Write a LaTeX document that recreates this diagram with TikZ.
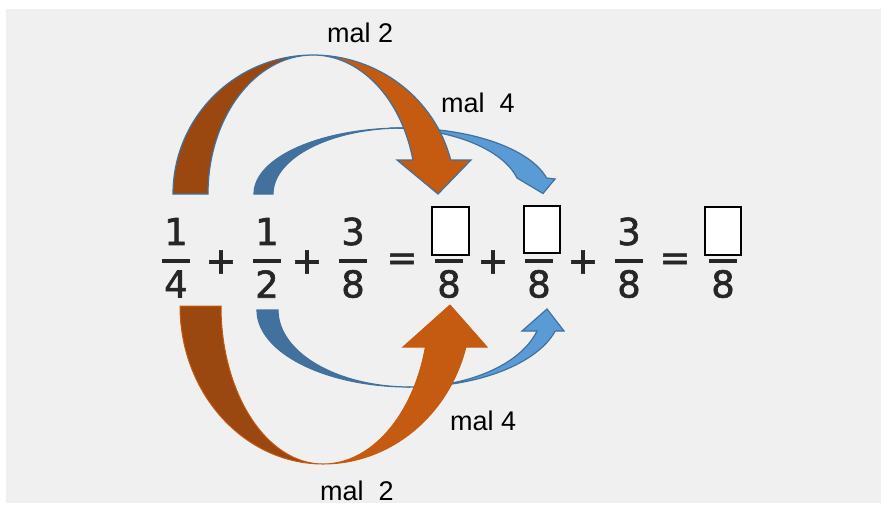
\documentclass[tikz,border=0pt]{standalone}
\usepackage{fontspec}
\setmainfont{DejaVu Sans}
\newfontfamily\labfont{Liberation Sans}
\newfontfamily\eqfont[FakeBold=1.6]{DejaVu Sans}
\definecolor{bg}{HTML}{F0F0F0}
\definecolor{orD}{HTML}{9A4710}
\definecolor{orL}{HTML}{C55A11}
\definecolor{blD}{HTML}{41719C}
\definecolor{blL}{HTML}{5B9BD5}
\begin{document}
\begin{tikzpicture}[x=1pt,y=-1pt,
  lab/.style={font=\labfont\fontsize{27}{27}\selectfont, anchor=base west, inner sep=0pt},
  num/.style={font=\eqfont\fontsize{37}{37}\selectfont, inner sep=0pt, text=black!85},
  fbar/.style={line width=4pt, draw=black!85},
  ansbox/.style={draw=black, line width=2.2pt, fill=white},
  bluearrow/.style={draw=blD, line width=1.2pt, line join=miter},
  topor/.style={draw=blD, line width=1.2pt, line join=miter},
  botor/.style={draw=orL, line width=1pt, line join=miter}]
\useasboundingbox (0,0) rectangle (885,507);
\fill[bg] (6,9) rectangle (881,503);
% ---- top blue arrow
\filldraw[bluearrow, fill=blD] (254,194) arc[start angle=180,end angle=270,x radius=149,y radius=66]
  arc[start angle=270,end angle=180,x radius=130,y radius=66] -- cycle;
\filldraw[bluearrow, fill=blL] (403,128) arc[start angle=270,end angle=345.97,x radius=148,y radius=66]
  -- (555,179) -- (543,193.5) -- (517,178)
  arc[start angle=345.97,end angle=270,x radius=131,y radius=66] -- cycle;
% ---- bottom blue arrow
\filldraw[bluearrow, fill=blD] (257,310) arc[start angle=180,end angle=90,x radius=153,y radius=77]
  arc[start angle=90,end angle=180,x radius=132,y radius=77] -- cycle;
\filldraw[bluearrow, fill=blL] (410,387) arc[start angle=90,end angle=15.83,x radius=151,y radius=77]
  -- (564,331) -- (547,309) -- (522,331) -- (537,331)
  arc[start angle=15.83,end angle=90,x radius=132,y radius=77] -- cycle;
% ---- top orange arrow
\filldraw[topor, fill=orD] (173,194) arc[start angle=180,end angle=270,x radius=140,y radius=139]
  arc[start angle=270,end angle=180,x radius=105,y radius=139] -- cycle;
\filldraw[topor, fill=orL] (313,55) arc[start angle=270,end angle=345.84,x radius=142,y radius=139]
  -- (471,160) -- (438,194) -- (397,160) -- (412.9,160)
  arc[start angle=345.84,end angle=270,x radius=103,y radius=139] -- cycle;
% ---- bottom orange arrow
\filldraw[botor, fill=orD] (180,306) arc[start angle=180,end angle=90,x radius=143,y radius=158]
  arc[start angle=90,end angle=180,x radius=102,y radius=158] -- cycle;
\filldraw[botor, fill=orL] (323,464) arc[start angle=90,end angle=15.04,x radius=148,y radius=158]
  -- (487,347) -- (450,305) -- (403,347) -- (425.4,347)
  arc[start angle=15.04,end angle=90,x radius=106,y radius=158] -- cycle;
% ---- equation
\node[num] (n1) at (176,231.5) {1};
\draw[fbar] (162,261) -- (190,261);
\node[num] (d1) at (176,284) {4};
\node[num] (p1) at (221,262) {+};
\node[num] (n2) at (267,231.5) {1};
\draw[fbar] (253,261) -- (281,261);
\node[num] (d2) at (267,284) {2};
\node[num] (p2) at (307,262) {+};
\node[num] (n3) at (353,231.5) {3};
\draw[fbar] (339,261) -- (367,261);
\node[num] (d3) at (353,284) {8};
\node[num] (e1) at (402,262) {=};
\draw[ansbox] (432,207) rectangle (469,255);
\draw[fbar] (435,261) -- (463,261);
\node[num] (d4) at (449,284) {8};
\node[num] (p3) at (493,262) {+};
\draw[ansbox] (524,206) rectangle (560,253);
\draw[fbar] (525,261) -- (553,261);
\node[num] (d5) at (539,284) {8};
\node[num] (p4) at (583,262) {+};
\node[num] (n6) at (629,231.5) {3};
\draw[fbar] (615,261) -- (643,261);
\node[num] (d6) at (629,284) {8};
\node[num] (e2) at (675,262) {=};
\draw[ansbox] (705,207) rectangle (741,255);
\draw[fbar] (709,261) -- (737,261);
\node[num] (d7) at (723,284) {8};
% ---- labels
\node[lab] (l1) at (327,42) {mal 2};
\node[lab] (l2) at (441,112) {mal~~4};
\node[lab] (l3) at (450,430) {mal 4};
\node[lab] (l4) at (320,500) {mal~~2};
\end{tikzpicture}
\end{document}
